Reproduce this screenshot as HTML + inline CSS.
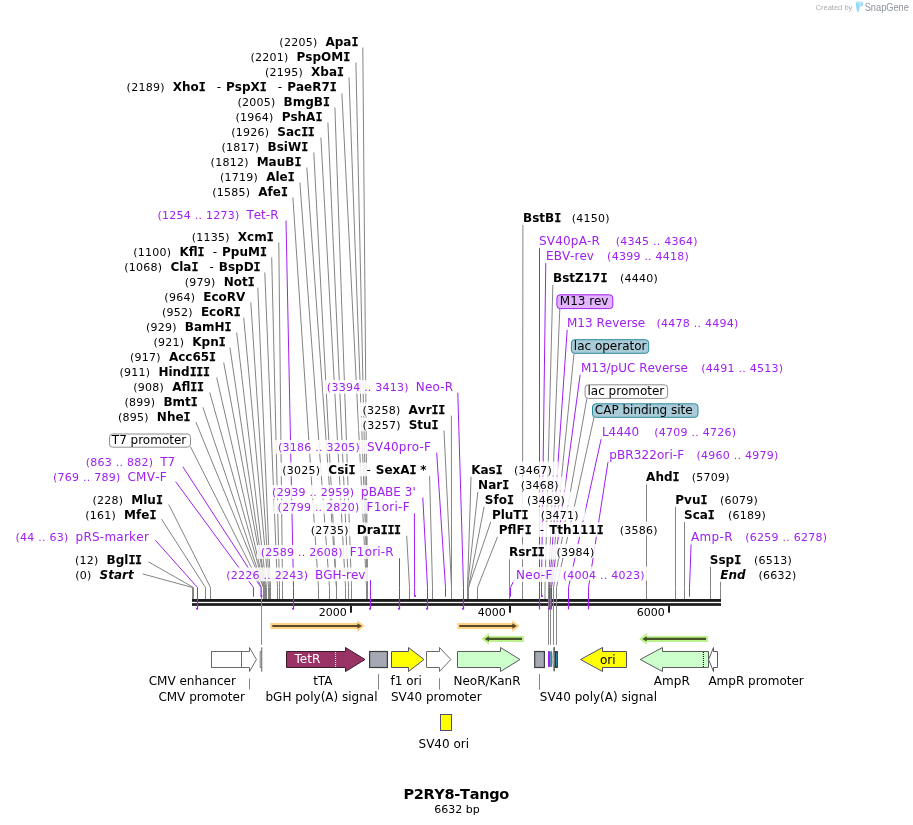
<!DOCTYPE html>
<html lang="en"><head><meta charset="utf-8"><title>P2RY8-Tango</title>
<style>
html,body{margin:0;padding:0;background:#fff}
svg{display:block}
text{font-family:'DejaVu Sans','Liberation Sans',sans-serif;font-size:12px;fill:#000;white-space:pre;font-kerning:none}
.n{font-size:11px;letter-spacing:0.25px}
.b{font-weight:bold}
.bi{font-weight:bold;font-style:italic}
.si{font-family:'DejaVu Sans Mono','Liberation Mono',monospace;font-weight:bold;font-size:11.6px;letter-spacing:-0.4px;stroke:#000;stroke-width:0.25px}
.sep{font-weight:normal}
.f{font-kerning:normal}
.tick{font-size:11px}
.title{font-size:14.5px;font-weight:bold}
.sub{font-size:11px}
.wm{font-family:'Liberation Sans',sans-serif}
</style></head>
<body>
<svg width="913" height="825" viewBox="0 0 913 825">
<rect width="913" height="825" fill="#fff"/>
<g id="lines" fill="none">
<path d="M362.8 47.5L367.5 587.5V599" stroke="#848484" stroke-width="1.0"/>
<path d="M355.9 62.5L367.5 587.5V599" stroke="#848484" stroke-width="1.0"/>
<path d="M349.0 77.5L367.5 587.5V599" stroke="#848484" stroke-width="1.0"/>
<path d="M341.9 93.5L366.5 587.5V599" stroke="#848484" stroke-width="1.0"/>
<path d="M334.9 107.5L351.5 587.5V599" stroke="#848484" stroke-width="1.0"/>
<path d="M327.9 122.5L348.5 587.5V599" stroke="#848484" stroke-width="1.0"/>
<path d="M320.9 137.5L345.5 587.5V599" stroke="#848484" stroke-width="1.0"/>
<path d="M313.8 152.5L336.5 587.5V599" stroke="#848484" stroke-width="1.0"/>
<path d="M306.8 167.5L336.5 587.5V599" stroke="#848484" stroke-width="1.0"/>
<path d="M299.9 182.5L329.5 587.5V599" stroke="#848484" stroke-width="1.0"/>
<path d="M292.9 197.5L318.5 587.5V599" stroke="#848484" stroke-width="1.0"/>
<path d="M286.0 220.5L293.5 587.5V599" stroke="#a020f0" stroke-width="1.0"/>
<path d="M278.8 242.5L282.5 587.5V599" stroke="#848484" stroke-width="1.0"/>
<path d="M271.7 257.5L279.5 587.5V599" stroke="#848484" stroke-width="1.0"/>
<path d="M264.8 272.5L277.5 587.5V599" stroke="#848484" stroke-width="1.0"/>
<path d="M257.8 287.5L270.5 587.5V599" stroke="#848484" stroke-width="1.0"/>
<path d="M250.8 302.5L269.5 587.5V599" stroke="#848484" stroke-width="1.0"/>
<path d="M243.7 317.5L268.5 587.5V599" stroke="#848484" stroke-width="1.0"/>
<path d="M236.7 332.5L266.5 587.5V599" stroke="#848484" stroke-width="1.0"/>
<path d="M229.9 347.5L265.5 587.5V599" stroke="#848484" stroke-width="1.0"/>
<path d="M223.7 362.5L265.5 587.5V599" stroke="#848484" stroke-width="1.0"/>
<path d="M216.7 377.4L264.5 587.5V599" stroke="#848484" stroke-width="1.0"/>
<path d="M209.7 392.4L264.5 587.5V599" stroke="#848484" stroke-width="1.0"/>
<path d="M202.9 407.3L263.5 587.5V599" stroke="#848484" stroke-width="1.0"/>
<path d="M195.9 422.1L263.5 587.5V599" stroke="#848484" stroke-width="1.0"/>
<path d="M182.8 466.7L261.0 587.5V596.7" stroke="#a020f0" stroke-width="1.0"/>
<path d="M175.6 481.6L253.5 587.5V596.7" stroke="#a020f0" stroke-width="1.0"/>
<path d="M168.7 504.4L210.5 587.5V599" stroke="#848484" stroke-width="1.0"/>
<path d="M161.5 519.1L205.5 587.5V599" stroke="#848484" stroke-width="1.0"/>
<path d="M155.4 540.3L197.5 587.5V599" stroke="#a020f0" stroke-width="1.0"/>
<path d="M148.4 561.8L193.5 587.5V599" stroke="#848484" stroke-width="1.0"/>
<path d="M142.7 573.9L192.5 587.5V599" stroke="#848484" stroke-width="1.0"/>
<path d="M457.8 392.7L463.5 587.5V599" stroke="#a020f0" stroke-width="1.0"/>
<path d="M451.4 415.6L451.5 587.5V599" stroke="#848484" stroke-width="1.0"/>
<path d="M444.0 430.5L451.5 587.5V599" stroke="#848484" stroke-width="1.0"/>
<path d="M436.7 452.7L445.5 587.5V596.7" stroke="#a020f0" stroke-width="1.0"/>
<path d="M429.6 475.6L432.5 587.5V599" stroke="#848484" stroke-width="1.0"/>
<path d="M422.8 497.6L427.5 587.5V599" stroke="#a020f0" stroke-width="1.0"/>
<path d="M414.4 513.3L414.6 587.5V596.7" stroke="#a020f0" stroke-width="1.0"/>
<path d="M406.7 535.7L409.5 587.5V599" stroke="#848484" stroke-width="1.0"/>
<path d="M399.5 558.2L399.5 587.5V599" stroke="#a020f0" stroke-width="1.0"/>
<path d="M370.5 580.2L370.5 587.5V599" stroke="#a020f0" stroke-width="1.0"/>
<path d="M522.9 223.1L522.5 587.5V599" stroke="#848484" stroke-width="1.0"/>
<path d="M539.5 246.8L539.5 587.5V599" stroke="#a020f0" stroke-width="1.0"/>
<path d="M545.8 261.5L541.5 587.5V596.7" stroke="#a020f0" stroke-width="1.0"/>
<path d="M552.9 283.1L545.0 587.5V599" stroke="#848484" stroke-width="1.0"/>
<path d="M567.3 328.1L549.5 587.5V599" stroke="#a020f0" stroke-width="1.0"/>
<path d="M580.4 372.8L551.5 587.5V599" stroke="#a020f0" stroke-width="1.0"/>
<path d="M601.6 436.9L568.5 587.5V599" stroke="#a020f0" stroke-width="1.0"/>
<path d="M608.3 460.1L588.5 587.5V599" stroke="#a020f0" stroke-width="1.0"/>
<path d="M646.5 482.5L646.5 587.5V599" stroke="#848484" stroke-width="1.0"/>
<path d="M675.5 505.5L675.5 587.5V599" stroke="#848484" stroke-width="1.0"/>
<path d="M684.5 520.5L684.5 587.5V599" stroke="#848484" stroke-width="1.0"/>
<path d="M691.2 541.9L689.5 587.5V596.7" stroke="#a020f0" stroke-width="1.0"/>
<path d="M710.5 565.5L710.5 587.5V599" stroke="#848484" stroke-width="1.0"/>
<path d="M720.5 579.8L720.5 587.5V599" stroke="#848484" stroke-width="1.0"/>
<path d="M471.1 475.3L467.5 587.5V599" stroke="#848484" stroke-width="1.0"/>
<path d="M478.0 490.5L467.5 587.5V599" stroke="#848484" stroke-width="1.0"/>
<path d="M484.4 505.4L468.5 587.5V599" stroke="#848484" stroke-width="1.0"/>
<path d="M491.3 520.3L468.5 587.5V599" stroke="#848484" stroke-width="1.0"/>
<path d="M498.0 535.7L477.5 587.5V599" stroke="#848484" stroke-width="1.0"/>
<path d="M509.5 557.6L509.5 587.5V599" stroke="#848484" stroke-width="1.0"/>
<path d="M514.8 578.8L510.5 587.5V596.7" stroke="#a020f0" stroke-width="1.0"/>
<path d="M190.5 446.8L261.5 587.5V598" stroke="#848484"/>
<path d="M559.8 308.6L548.5 587.5V598" stroke="#848484"/>
<path d="M574.0 353.3L550.5 587.5V598" stroke="#848484"/>
<path d="M586.9 398.4L553.5 587.5V598" stroke="#848484"/>
<path d="M594.0 417.3L556.5 587.5V598" stroke="#848484"/>
</g>
<g id="halos" fill="#fff" fill-opacity="0.85">
<rect x="275.5" y="35.0" width="85.5" height="13.8"/>
<rect x="246.7" y="50.0" width="106.1" height="13.8"/>
<rect x="261.2" y="65.0" width="85.4" height="13.8"/>
<rect x="122.8" y="80.0" width="216.6" height="13.8"/>
<rect x="233.7" y="95.0" width="98.9" height="13.8"/>
<rect x="231.7" y="110.0" width="93.3" height="13.8"/>
<rect x="227.5" y="125.0" width="89.9" height="13.8"/>
<rect x="217.7" y="140.0" width="93.1" height="13.8"/>
<rect x="206.8" y="155.0" width="97.2" height="13.8"/>
<rect x="216.3" y="170.0" width="81.0" height="13.8"/>
<rect x="208.4" y="185.0" width="82.1" height="13.8"/>
<rect x="153.6" y="207.5" width="127.9" height="13.8"/>
<rect x="188.0" y="230.0" width="88.3" height="13.8"/>
<rect x="129.5" y="245.0" width="140.0" height="13.8"/>
<rect x="120.5" y="260.0" width="142.7" height="13.8"/>
<rect x="181.0" y="275.0" width="76.3" height="13.8"/>
<rect x="160.6" y="290.0" width="88.4" height="13.8"/>
<rect x="158.3" y="305.0" width="85.0" height="13.8"/>
<rect x="142.2" y="320.0" width="92.0" height="13.8"/>
<rect x="149.6" y="335.0" width="78.7" height="13.8"/>
<rect x="126.2" y="350.0" width="92.5" height="13.8"/>
<rect x="115.8" y="365.0" width="96.7" height="13.8"/>
<rect x="129.5" y="380.0" width="77.0" height="13.8"/>
<rect x="120.8" y="395.0" width="79.6" height="13.8"/>
<rect x="114.2" y="410.0" width="79.0" height="13.8"/>
<rect x="82.0" y="455.0" width="96.2" height="13.8"/>
<rect x="49.2" y="470.0" width="120.7" height="13.8"/>
<rect x="88.7" y="492.5" width="76.8" height="13.8"/>
<rect x="81.5" y="507.5" width="77.5" height="13.8"/>
<rect x="11.8" y="530.0" width="140.3" height="13.8"/>
<rect x="71.2" y="552.5" width="73.4" height="13.8"/>
<rect x="71.4" y="567.5" width="66.5" height="13.8"/>
<rect x="323.1" y="380.0" width="133.2" height="13.8"/>
<rect x="358.7" y="402.5" width="89.1" height="13.8"/>
<rect x="358.8" y="417.5" width="82.4" height="13.8"/>
<rect x="274.1" y="440.0" width="160.0" height="13.8"/>
<rect x="278.5" y="462.5" width="151.9" height="13.8"/>
<rect x="268.3" y="485.0" width="150.4" height="13.8"/>
<rect x="273.8" y="500.0" width="139.1" height="13.8"/>
<rect x="307.0" y="522.5" width="96.6" height="13.8"/>
<rect x="257.0" y="545.0" width="139.8" height="13.8"/>
<rect x="222.3" y="567.5" width="146.1" height="13.8"/>
<rect x="519.5" y="210.0" width="53.3" height="15.0"/>
<rect x="571.8" y="209.5" width="44.6" height="14.0"/>
<rect x="535.5" y="233.2" width="81.3" height="15.0"/>
<rect x="615.8" y="232.7" width="88.6" height="14.0"/>
<rect x="542.6" y="248.2" width="65.5" height="15.0"/>
<rect x="607.1" y="247.7" width="88.6" height="14.0"/>
<rect x="549.5" y="270.0" width="71.5" height="15.0"/>
<rect x="620.0" y="269.5" width="44.6" height="14.0"/>
<rect x="563.5" y="315.0" width="93.9" height="15.0"/>
<rect x="656.4" y="314.5" width="88.6" height="14.0"/>
<rect x="577.4" y="360.0" width="124.9" height="15.0"/>
<rect x="701.3" y="359.5" width="88.6" height="14.0"/>
<rect x="598.4" y="424.2" width="56.9" height="15.0"/>
<rect x="654.3" y="423.7" width="88.6" height="14.0"/>
<rect x="605.8" y="447.2" width="91.6" height="15.0"/>
<rect x="696.4" y="446.7" width="88.6" height="14.0"/>
<rect x="642.6" y="469.5" width="50.2" height="15.0"/>
<rect x="691.8" y="469.0" width="44.6" height="14.0"/>
<rect x="671.8" y="492.0" width="49.1" height="15.0"/>
<rect x="719.9" y="491.5" width="44.6" height="14.0"/>
<rect x="680.5" y="507.0" width="48.4" height="15.0"/>
<rect x="727.9" y="506.5" width="44.6" height="14.0"/>
<rect x="687.4" y="529.5" width="58.8" height="15.0"/>
<rect x="745.2" y="529.0" width="88.6" height="14.0"/>
<rect x="706.3" y="552.0" width="48.6" height="15.0"/>
<rect x="753.9" y="551.5" width="44.6" height="14.0"/>
<rect x="716.7" y="567.0" width="42.8" height="15.0"/>
<rect x="758.5" y="566.5" width="44.6" height="14.0"/>
<rect x="467.7" y="462.0" width="47.2" height="15.0"/>
<rect x="513.9" y="461.5" width="44.6" height="14.0"/>
<rect x="474.6" y="477.0" width="47.2" height="15.0"/>
<rect x="520.8" y="476.5" width="44.6" height="14.0"/>
<rect x="481.3" y="492.0" width="46.7" height="15.0"/>
<rect x="527.0" y="491.5" width="44.6" height="14.0"/>
<rect x="488.4" y="507.0" width="53.4" height="15.0"/>
<rect x="540.8" y="506.5" width="44.6" height="14.0"/>
<rect x="495.3" y="522.0" width="125.4" height="15.0"/>
<rect x="619.7" y="521.5" width="44.6" height="14.0"/>
<rect x="505.4" y="544.5" width="52.0" height="15.0"/>
<rect x="556.4" y="544.0" width="44.6" height="14.0"/>
<rect x="512.5" y="567.0" width="51.2" height="15.0"/>
<rect x="562.7" y="566.5" width="88.6" height="14.0"/>
</g>
<g id="backbone">
<rect x="192" y="599" width="529" height="2.85" fill="#1c1c1c"/>
<rect x="192" y="603.15" width="529" height="2.7" fill="#1c1c1c"/>
<rect x="350" y="605.8" width="2" height="6.9" fill="#1c1c1c"/>
<rect x="509" y="605.8" width="2" height="6.9" fill="#1c1c1c"/>
<rect x="668" y="605.8" width="2" height="6.9" fill="#1c1c1c"/>
</g>
<g id="flines" fill="none">
<path d="M261.5 598V644.8" stroke="#8a8a8a"/>
<path d="M548.5 598V644.8" stroke="#8a8a8a"/>
<path d="M550.5 598V644.8" stroke="#8a8a8a"/>
<path d="M553.5 598V644.8" stroke="#8a8a8a"/>
<path d="M556.5 598V644.8" stroke="#8a8a8a"/>
</g>
<g id="plines" fill="none">
<path d="M293.5 598.5V609.4" stroke="#a020f0" stroke-width="1.25"/>
<path d="M197.5 598.5V609.4" stroke="#a020f0" stroke-width="1.25"/>
<path d="M463.5 598.5V609.4" stroke="#a020f0" stroke-width="1.25"/>
<path d="M427.5 598.5V609.4" stroke="#a020f0" stroke-width="1.25"/>
<path d="M399.5 598.5V609.4" stroke="#a020f0" stroke-width="1.25"/>
<path d="M370.5 598.5V609.4" stroke="#a020f0" stroke-width="1.25"/>
<path d="M539.5 598.5V609.4" stroke="#a020f0" stroke-width="1.25"/>
<path d="M549.5 598.5V609.4" stroke="#a020f0" stroke-width="1.25"/>
<path d="M551.5 598.5V609.4" stroke="#a020f0" stroke-width="1.25"/>
<path d="M568.5 598.5V609.4" stroke="#a020f0" stroke-width="1.25"/>
<path d="M588.5 598.5V609.4" stroke="#a020f0" stroke-width="1.25"/>
</g>
<g id="dots" fill="#a020f0">
<circle cx="292.95" cy="608.8" r="0.95"/>
<circle cx="261.55" cy="596.0" r="0.95"/>
<circle cx="196.95" cy="608.8" r="0.95"/>
<circle cx="462.95" cy="608.8" r="0.95"/>
<circle cx="426.95" cy="608.8" r="0.95"/>
<circle cx="415.15" cy="596.0" r="0.95"/>
<circle cx="398.95" cy="608.8" r="0.95"/>
<circle cx="369.95" cy="608.8" r="0.95"/>
<circle cx="542.05" cy="596.0" r="0.95"/>
<circle cx="548.95" cy="608.8" r="0.95"/>
</g>
<g id="boxes">
<rect x="109.5" y="434.0" width="81.0" height="13.2" rx="3.2" fill="#ffffff" stroke="#8e8e8e" stroke-width="1"/>
<rect x="556.9" y="294.8" width="55.9" height="13.8" rx="3.2" fill="#e3b5ff" stroke="#a020f0" stroke-width="1"/>
<rect x="571.4" y="339.70000000000005" width="77.3" height="13.6" rx="3.2" fill="#a8cbd7" stroke="#2a8aa0" stroke-width="1"/>
<rect x="585.1" y="384.8" width="82.5" height="13.6" rx="3.2" fill="#ffffff" stroke="#8e8e8e" stroke-width="1"/>
<rect x="592.5" y="403.8" width="105.5" height="13.5" rx="3.2" fill="#a8cbd7" stroke="#2a8aa0" stroke-width="1"/>
</g>
<g id="features">
<rect x="211.5" y="651.5" width="30.0" height="16.0" fill="#fff" stroke="#6a6a6a" stroke-width="1"/>
<path d="M241.5 651.5H249.5V647.5L256.4 659.5L249.5 671.5V667.5H241.5Z" fill="#fff" stroke="#6a6a6a"/>
<path d="M261.7 651.5H260.2V667.5H261.7" fill="#fff" stroke="#666" stroke-width="0.85"/><path d="M261.75 647.3V671.7" fill="none" stroke="#5a5a5a" stroke-width="0.95"/>
<path d="M286.5 651.5H345.5V647.5L365.0 659.5L345.5 671.5V667.5H286.5Z" fill="#993366" stroke="#3a1a2a"/>
<path d="M335.6 652V667.5" stroke="#fff" stroke-width="1" stroke-dasharray="1 1"/>
<rect x="369.6" y="651.5" width="17.8" height="16.0" fill="#a4a9b3" stroke="#3c3c3c" stroke-width="1.2"/>
<path d="M391.5 651.5H408.5V647.5L424.0 659.5L408.5 671.5V667.5H391.5Z" fill="#ffff00" stroke="#50506a"/>
<path d="M426.5 651.5H439.5V647.5L450.8 659.5L439.5 671.5V667.5H426.5Z" fill="#fff" stroke="#6a6a6a"/>
<path d="M457.5 651.5H500.5V647.5L520.0 659.5L500.5 671.5V667.5H457.5Z" fill="#ccffcc" stroke="#5c5c5c"/>
<rect x="534.7" y="651.5" width="9.7" height="16.0" fill="#a4a9b3" stroke="#3c3c3c" stroke-width="1.2"/>
<rect x="548.0" y="651.2" width="2.2" height="15.7" fill="#a020f0"/>
<rect x="550.2" y="651.2" width="1.9" height="15.7" fill="#2e8a9e"/>
<rect x="555.5" y="651.6" width="1.9" height="15.8" fill="#2e8a9e" stroke="#333" stroke-width="1"/>
<path d="M554.3 647.2L552.2 659.5L554.3 671.2Z" fill="#fff" stroke="#8a8a8a" stroke-width="0.7"/><path d="M554.2 647.2V671.2" fill="none" stroke="#555" stroke-width="1.2"/>
<path d="M626.5 651.5H602.5V647.5L580.5 659.5L602.5 671.5V667.5H626.5Z" fill="#ffff00" stroke="#50506a"/>
<path d="M708.5 651.5H662.5V647.5L640.2 659.5L662.5 671.5V667.5H708.5Z" fill="#ccffcc" stroke="#5c5c5c"/>
<path d="M703.4 652V667.5" stroke="#000" stroke-width="1" stroke-dasharray="1 1"/>
<path d="M717.5 651.5H713.5V647.5L708.6 659.5L713.5 671.5V667.5H717.5Z" fill="#fff" stroke="#5c5c5c"/>
<rect x="440.5" y="714.5" width="11.0" height="16.0" fill="#ffff00" stroke="#50506a" stroke-width="1"/>
<path d="M270.3 623.0H357.40000000000003V620.1L364.6 626.0L357.40000000000003 631.9V629.0H270.3Z" fill="#ffd285"/><path d="M272.3 624.9H357.40000000000003V623.3L362.0 626.0L357.40000000000003 628.7V627.1H272.3Z" fill="#5a4a2a"/>
<path d="M457.3 623.0H512.3V620.1L519.5 626.0L512.3 631.9V629.0H457.3Z" fill="#ffd285"/><path d="M459.3 624.9H512.3V623.3L516.9 626.0L512.3 628.7V627.1H459.3Z" fill="#5a4a2a"/>
<path d="M524.0 635.9H489.0V633.0L481.4 638.9L489.0 644.8V641.9H524.0Z" fill="#bdf28c"/><path d="M522.0 637.8H489.0V636.1999999999999L484.59999999999997 638.9L489.0 641.6V640.0H522.0Z" fill="#46522a"/>
<path d="M708.0 635.9H646.7V633.0L639.1 638.9L646.7 644.8V641.9H708.0Z" fill="#bdf28c"/><path d="M706.0 637.8H646.7V636.1999999999999L642.3000000000001 638.9L646.7 641.6V640.0H706.0Z" fill="#46522a"/>
<path d="M249.5 678.6V689.4" stroke="#848484" fill="none"/>
<path d="M378.5 674.0V689.6" stroke="#848484" fill="none"/>
<path d="M439.5 678.2V689.6" stroke="#848484" fill="none"/>
<path d="M539.5 674.0V689.6" stroke="#848484" fill="none"/>
</g>
<g id="labels">
<text id="t1" x="358.0" y="46.3" text-anchor="end" class="lab"><tspan class="n">(2205)</tspan><tspan class="b" dx="8.0">Apa<tspan class="si">I</tspan></tspan></text>
<text id="t2" x="349.8" y="61.3" text-anchor="end" class="lab"><tspan class="n">(2201)</tspan><tspan class="b" dx="8.0">PspOM<tspan class="si">I</tspan></tspan></text>
<text id="t3" x="343.6" y="76.3" text-anchor="end" class="lab"><tspan class="n">(2195)</tspan><tspan class="b" dx="8.0">Xba<tspan class="si">I</tspan></tspan></text>
<text id="t4" x="336.4" y="91.3" text-anchor="end" class="lab"><tspan class="n">(2189)</tspan><tspan class="b" dx="8.0">Xho<tspan class="si">I</tspan></tspan><tspan class="sep" dx="11.4">-</tspan><tspan class="b" dx="5.0">PspX<tspan class="si">I</tspan></tspan><tspan class="sep" dx="11.4">-</tspan><tspan class="b" dx="5.0">PaeR7<tspan class="si">I</tspan></tspan></text>
<text id="t5" x="329.6" y="106.3" text-anchor="end" class="lab"><tspan class="n">(2005)</tspan><tspan class="b" dx="8.0">BmgB<tspan class="si">I</tspan></tspan></text>
<text id="t6" x="322.0" y="121.3" text-anchor="end" class="lab"><tspan class="n">(1964)</tspan><tspan class="b" dx="8.0">PshA<tspan class="si">I</tspan></tspan></text>
<text id="t7" x="314.4" y="136.3" text-anchor="end" class="lab"><tspan class="n">(1926)</tspan><tspan class="b" dx="8.0">Sac<tspan class="si">I</tspan><tspan class="si">I</tspan></tspan></text>
<text id="t8" x="307.8" y="151.3" text-anchor="end" class="lab"><tspan class="n">(1817)</tspan><tspan class="b" dx="8.0">BsiW<tspan class="si">I</tspan></tspan></text>
<text id="t9" x="301.0" y="166.3" text-anchor="end" class="lab"><tspan class="n">(1812)</tspan><tspan class="b" dx="8.0">MauB<tspan class="si">I</tspan></tspan></text>
<text id="t10" x="294.3" y="181.3" text-anchor="end" class="lab"><tspan class="n">(1719)</tspan><tspan class="b" dx="8.0">Ale<tspan class="si">I</tspan></tspan></text>
<text id="t11" x="287.5" y="196.3" text-anchor="end" class="lab"><tspan class="n">(1585)</tspan><tspan class="b" dx="8.0">Afe<tspan class="si">I</tspan></tspan></text>
<text id="t12" x="278.5" y="218.8" text-anchor="end" class="lab" style="fill:#a020f0"><tspan class="n">(1254 .. 1273)</tspan><tspan dx="6.9">Tet-R</tspan></text>
<text id="t13" x="273.3" y="241.3" text-anchor="end" class="lab"><tspan class="n">(1135)</tspan><tspan class="b" dx="8.0">Xcm<tspan class="si">I</tspan></tspan></text>
<text id="t14" x="266.5" y="256.3" text-anchor="end" class="lab"><tspan class="n">(1100)</tspan><tspan class="b" dx="8.0">Kfl<tspan class="si">I</tspan></tspan><tspan class="sep" dx="8.5">-</tspan><tspan class="b" dx="5.0">PpuM<tspan class="si">I</tspan></tspan></text>
<text id="t15" x="260.2" y="271.3" text-anchor="end" class="lab"><tspan class="n">(1068)</tspan><tspan class="b" dx="8.0">Cla<tspan class="si">I</tspan></tspan><tspan class="sep" dx="11.4">-</tspan><tspan class="b" dx="5.0">BspD<tspan class="si">I</tspan></tspan></text>
<text id="t16" x="254.3" y="286.3" text-anchor="end" class="lab"><tspan class="n">(979)</tspan><tspan class="b" dx="8.0">Not<tspan class="si">I</tspan></tspan></text>
<text id="t17" x="245.3" y="301.3" text-anchor="end" class="lab"><tspan class="n">(964)</tspan><tspan class="b" dx="8.0">EcoRV</tspan></text>
<text id="t18" x="240.3" y="316.3" text-anchor="end" class="lab"><tspan class="n">(952)</tspan><tspan class="b" dx="8.0">EcoR<tspan class="si">I</tspan></tspan></text>
<text id="t19" x="231.2" y="331.3" text-anchor="end" class="lab"><tspan class="n">(929)</tspan><tspan class="b" dx="8.0">BamH<tspan class="si">I</tspan></tspan></text>
<text id="t20" x="225.3" y="346.3" text-anchor="end" class="lab"><tspan class="n">(921)</tspan><tspan class="b" dx="8.0">Kpn<tspan class="si">I</tspan></tspan></text>
<text id="t21" x="215.7" y="361.3" text-anchor="end" class="lab"><tspan class="n">(917)</tspan><tspan class="b" dx="8.0">Acc65<tspan class="si">I</tspan></tspan></text>
<text id="t22" x="209.5" y="376.3" text-anchor="end" class="lab"><tspan class="n">(911)</tspan><tspan class="b" dx="8.0">Hind<tspan class="si">I</tspan><tspan class="si">I</tspan><tspan class="si">I</tspan></tspan></text>
<text id="t23" x="203.5" y="391.3" text-anchor="end" class="lab"><tspan class="n">(908)</tspan><tspan class="b" dx="8.0">Afl<tspan class="si">I</tspan><tspan class="si">I</tspan></tspan></text>
<text id="t24" x="197.4" y="406.3" text-anchor="end" class="lab"><tspan class="n">(899)</tspan><tspan class="b" dx="8.0">Bmt<tspan class="si">I</tspan></tspan></text>
<text id="t25" x="190.2" y="421.3" text-anchor="end" class="lab"><tspan class="n">(895)</tspan><tspan class="b" dx="8.0">Nhe<tspan class="si">I</tspan></tspan></text>
<text id="t26" x="175.2" y="466.3" text-anchor="end" class="lab" style="fill:#a020f0"><tspan class="n">(863 .. 882)</tspan><tspan dx="6.9">T7</tspan></text>
<text id="t27" x="166.9" y="481.3" text-anchor="end" class="lab" style="fill:#a020f0"><tspan class="n">(769 .. 789)</tspan><tspan dx="6.9" style="letter-spacing:0.25px">CMV-F</tspan></text>
<text id="t28" x="162.5" y="503.8" text-anchor="end" class="lab"><tspan class="n">(228)</tspan><tspan class="b" dx="8.0">Mlu<tspan class="si">I</tspan></tspan></text>
<text id="t29" x="156.0" y="518.8" text-anchor="end" class="lab"><tspan class="n">(161)</tspan><tspan class="b" dx="8.0">Mfe<tspan class="si">I</tspan></tspan></text>
<text id="t30" x="149.1" y="541.3" text-anchor="end" class="lab" style="fill:#a020f0"><tspan class="n">(44 .. 63)</tspan><tspan dx="6.9" style="letter-spacing:0.24px">pRS-marker</tspan></text>
<text id="t31" x="141.6" y="563.8" text-anchor="end" class="lab"><tspan class="n">(12)</tspan><tspan class="b" dx="8.0">Bgl<tspan class="si">I</tspan><tspan class="si">I</tspan></tspan></text>
<text id="t32" x="133.7" y="578.8" text-anchor="end" class="lab"><tspan class="n">(0)</tspan><tspan class="bi" dx="8.0">Start</tspan></text>
<text id="t33" x="453.3" y="391.3" text-anchor="end" class="lab" style="fill:#a020f0"><tspan class="n">(3394 .. 3413)</tspan><tspan dx="6.9" style="letter-spacing:0.22px">Neo-R</tspan></text>
<text id="t34" x="444.8" y="413.8" text-anchor="end" class="lab"><tspan class="n">(3258)</tspan><tspan class="b" dx="8.0">Avr<tspan class="si">I</tspan><tspan class="si">I</tspan></tspan></text>
<text id="t35" x="438.2" y="428.8" text-anchor="end" class="lab"><tspan class="n">(3257)</tspan><tspan class="b" dx="8.0">Stu<tspan class="si">I</tspan></tspan></text>
<text id="t36" x="431.1" y="451.3" text-anchor="end" class="lab" style="fill:#a020f0"><tspan class="n">(3186 .. 3205)</tspan><tspan dx="6.9" style="letter-spacing:0.22px">SV40pro-F</tspan></text>
<text id="t37" x="426.6" y="473.8" text-anchor="end" class="lab"><tspan class="n">(3025)</tspan><tspan class="b" dx="8.0">Csi<tspan class="si">I</tspan></tspan><tspan class="sep" dx="11.4">-</tspan><tspan class="b" dx="5.0">SexA<tspan class="si">I</tspan> *</tspan></text>
<text id="t38" x="415.7" y="496.3" text-anchor="end" class="lab" style="fill:#a020f0"><tspan class="n">(2939 .. 2959)</tspan><tspan dx="6.9">pBABE 3'</tspan></text>
<text id="t39" x="409.9" y="511.3" text-anchor="end" class="lab" style="fill:#a020f0"><tspan class="n">(2799 .. 2820)</tspan><tspan dx="6.9" style="letter-spacing:0.28px">F1ori-F</tspan></text>
<text id="t40" x="400.6" y="533.8" text-anchor="end" class="lab"><tspan class="n">(2735)</tspan><tspan class="b" dx="8.0">Dra<tspan class="si">I</tspan><tspan class="si">I</tspan><tspan class="si">I</tspan></tspan></text>
<text id="t41" x="393.8" y="556.3" text-anchor="end" class="lab" style="fill:#a020f0"><tspan class="n">(2589 .. 2608)</tspan><tspan dx="6.9" style="letter-spacing:0.17px">F1ori-R</tspan></text>
<text id="t42" x="365.4" y="578.8" text-anchor="end" class="lab" style="fill:#a020f0"><tspan class="n">(2226 .. 2243)</tspan><tspan dx="6.9">BGH-rev</tspan></text>
<text id="t43" x="523.0" y="221.8" class="lab rn"><tspan class="b">BstB<tspan class="si">I</tspan></tspan></text>
<text id="t44" x="571.8" y="221.8" class="lab n">(4150)</text>
<text id="t45" x="539.0" y="245.0" class="lab rn" style="fill:#a020f0"><tspan style="letter-spacing:0.19px">SV40pA-R</tspan></text>
<text id="t46" x="615.8" y="245.0" class="lab n" style="fill:#a020f0">(4345 .. 4364)</text>
<text id="t47" x="546.1" y="260.0" class="lab rn" style="fill:#a020f0"><tspan>EBV-rev</tspan></text>
<text id="t48" x="607.1" y="260.0" class="lab n" style="fill:#a020f0">(4399 .. 4418)</text>
<text id="t49" x="553.0" y="281.8" class="lab rn"><tspan class="b">BstZ17<tspan class="si">I</tspan></tspan></text>
<text id="t50" x="620.0" y="281.8" class="lab n">(4440)</text>
<text id="t51" x="567.0" y="326.8" class="lab rn" style="fill:#a020f0"><tspan>M13 Reverse</tspan></text>
<text id="t52" x="656.4" y="326.8" class="lab n" style="fill:#a020f0">(4478 .. 4494)</text>
<text id="t53" x="580.9" y="371.8" class="lab rn" style="fill:#a020f0"><tspan>M13/pUC Reverse</tspan></text>
<text id="t54" x="701.3" y="371.8" class="lab n" style="fill:#a020f0">(4491 .. 4513)</text>
<text id="t55" x="601.9" y="436.0" class="lab rn" style="fill:#a020f0"><tspan>L4440</tspan></text>
<text id="t56" x="654.3" y="436.0" class="lab n" style="fill:#a020f0">(4709 .. 4726)</text>
<text id="t57" x="609.3" y="459.0" class="lab rn" style="fill:#a020f0"><tspan style="letter-spacing:0.09px">pBR322ori-F</tspan></text>
<text id="t58" x="696.4" y="459.0" class="lab n" style="fill:#a020f0">(4960 .. 4979)</text>
<text id="t59" x="646.1" y="481.3" class="lab rn"><tspan class="b">Ahd<tspan class="si">I</tspan></tspan></text>
<text id="t60" x="691.8" y="481.3" class="lab n">(5709)</text>
<text id="t61" x="675.3" y="503.8" class="lab rn"><tspan class="b">Pvu<tspan class="si">I</tspan></tspan></text>
<text id="t62" x="719.9" y="503.8" class="lab n">(6079)</text>
<text id="t63" x="684.0" y="518.8" class="lab rn"><tspan class="b">Sca<tspan class="si">I</tspan></tspan></text>
<text id="t64" x="727.9" y="518.8" class="lab n">(6189)</text>
<text id="t65" x="690.9" y="541.3" class="lab rn" style="fill:#a020f0"><tspan style="letter-spacing:0.37px">Amp-R</tspan></text>
<text id="t66" x="745.2" y="541.3" class="lab n" style="fill:#a020f0">(6259 .. 6278)</text>
<text id="t67" x="709.8" y="563.8" class="lab rn"><tspan class="b">Ssp<tspan class="si">I</tspan></tspan></text>
<text id="t68" x="753.9" y="563.8" class="lab n">(6513)</text>
<text id="t69" x="720.2" y="578.8" class="lab rn"><tspan class="bi">End</tspan></text>
<text id="t70" x="758.5" y="578.8" class="lab n">(6632)</text>
<text id="t71" x="471.2" y="473.8" class="lab rn"><tspan class="b">Kas<tspan class="si">I</tspan></tspan></text>
<text id="t72" x="513.9" y="473.8" class="lab n">(3467)</text>
<text id="t73" x="478.1" y="488.8" class="lab rn"><tspan class="b">Nar<tspan class="si">I</tspan></tspan></text>
<text id="t74" x="520.8" y="488.8" class="lab n">(3468)</text>
<text id="t75" x="484.8" y="503.8" class="lab rn"><tspan class="b">Sfo<tspan class="si">I</tspan></tspan></text>
<text id="t76" x="527.0" y="503.8" class="lab n">(3469)</text>
<text id="t77" x="491.9" y="518.8" class="lab rn"><tspan class="b">PluT<tspan class="si">I</tspan></tspan></text>
<text id="t78" x="540.8" y="518.8" class="lab n">(3471)</text>
<text id="t79" x="498.8" y="533.8" class="lab rn"><tspan class="b">PflF<tspan class="si">I</tspan></tspan><tspan class="sep" dx="8.5">-</tspan><tspan class="b" dx="5.0">Tth111<tspan class="si">I</tspan></tspan></text>
<text id="t80" x="619.7" y="533.8" class="lab n">(3586)</text>
<text id="t81" x="508.9" y="556.3" class="lab rn"><tspan class="b">Rsr<tspan class="si">I</tspan><tspan class="si">I</tspan></tspan></text>
<text id="t82" x="556.4" y="556.3" class="lab n">(3984)</text>
<text id="t83" x="516.0" y="578.8" class="lab rn" style="fill:#a020f0"><tspan style="letter-spacing:0.38px">Neo-F</tspan></text>
<text id="t84" x="562.7" y="578.8" class="lab n" style="fill:#a020f0">(4004 .. 4023)</text>
<text id="t85" x="111.8" y="444.0" class="f">T7 promoter</text>
<text id="t86" x="559.8" y="305.1" class="f">M13 rev</text>
<text id="t87" x="573.8" y="349.9" class="f">lac operator</text>
<text id="t88" x="587.5" y="395.0" class="f">lac promoter</text>
<text id="t89" x="594.8" y="413.9" class="f">CAP binding site</text>
<text id="t90" x="346.8" y="615.6" text-anchor="end" class="tick">2000</text>
<text id="t91" x="505.8" y="615.6" text-anchor="end" class="tick">4000</text>
<text id="t92" x="664.8" y="615.6" text-anchor="end" class="tick">6000</text>
<text id="t93" x="192.3" y="684.8" text-anchor="middle" class="f">CMV enhancer</text>
<text id="t94" x="201.6" y="701.1" text-anchor="middle" class="f">CMV promoter</text>
<text id="t95" x="322.8" y="684.8" text-anchor="middle" class="f">tTA</text>
<text id="t96" x="321.5" y="701.1" text-anchor="middle" class="f">bGH poly(A) signal</text>
<text id="t97" x="390.6" y="684.8" class="f">f1 ori</text>
<text id="t98" x="391.0" y="701.1" class="f">SV40 promoter</text>
<text id="t99" x="487.0" y="684.8" text-anchor="middle" class="f">NeoR/KanR</text>
<text id="t100" x="539.8" y="701.1" class="f">SV40 poly(A) signal</text>
<text id="t101" x="671.8" y="684.8" text-anchor="middle" class="f">AmpR</text>
<text id="t102" x="708.4" y="684.8" class="f">AmpR promoter</text>
<text id="t103" x="443.8" y="748.3" text-anchor="middle" class="f">SV40 ori</text>
<text id="t104" x="607.8" y="663.8" text-anchor="middle" class="f">ori</text>
<text id="t105" x="307.4" y="663.0" text-anchor="middle" class="f" style="fill:#fff">TetR</text>
<text id="t106" x="456.3" y="798.6" text-anchor="middle" class="title" textLength="105.8">P2RY8-Tango</text>
<text id="t107" x="456.9" y="812.5" text-anchor="middle" class="sub">6632 bp</text>
</g>
<g id="watermark"><text class="wm" x="852.3" y="10.3" text-anchor="end" style="font-size:7.5px;fill:#adadad">Created by</text><path d="M855.3 1.2H862.1L862.9 2.6H855.3Z" fill="#c9ecfd"/><path d="M859.5 2.4H862.9V5.2L861.0 6.8H859.5Z" fill="#bfe8fd"/><path d="M861.1 2.6H862.9V5.2L861.1 6.6Z" fill="#93d9fb"/><path d="M856.0 2.4H859.6V7.6L858.4 12.6H857.6L856.2 7.6Z" fill="#93d9fb"/><text class="wm" x="864.7" y="10.6" style="font-size:10px;fill:#8e949c" textLength="44.2" lengthAdjust="spacingAndGlyphs">SnapGene</text></g>
</svg>
</body></html>
